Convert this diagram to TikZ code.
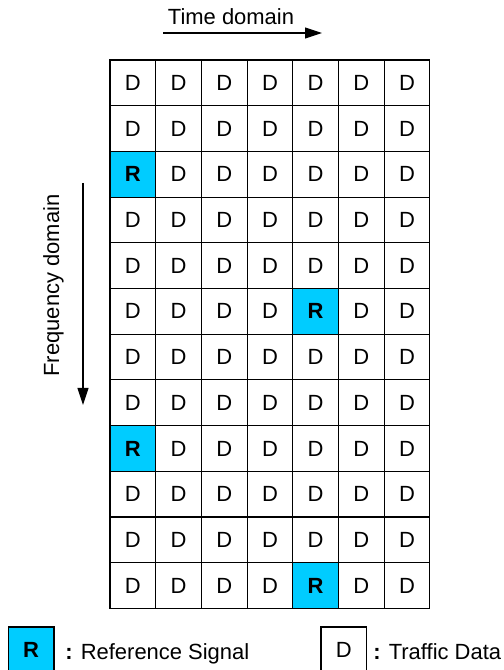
\documentclass[tikz,border=0pt]{standalone}
\usepackage{fontspec}
\setmainfont{Liberation Sans}
\usepackage{xcolor}
\usetikzlibrary{arrows.meta,positioning}
\definecolor{refcyan}{HTML}{00CCFF}

\begin{document}
\begin{tikzpicture}[
  font=\fontsize{12.5}{15}\selectfont,
  cell/.style={draw, line width=0.6pt, minimum size=0.914cm, inner sep=0pt},
  refcell/.style={cell, fill=refcyan, font=\fontsize{12.5}{15}\selectfont\bfseries},
  axis/.style={line width=0.6pt, -{Triangle[length=3.4mm,width=2.2mm]}},
  keytext/.style={anchor=base west, inner sep=0pt}
]
  \useasboundingbox (0,0) rectangle (10.06,13.4);

  % Resource grid (R = reference signal, D = data)
  \foreach \r in {1,...,12} {
    \foreach \c in {1,...,7} {
      \pgfmathtruncatemacro{\isref}{(\c==1 && (\r==3 || \r==9)) || (\c==5 && (\r==6 || \r==12))}
      \ifnum\isref=1
        \node[refcell] (c\c-\r) at ({2.2+(\c-0.5)*0.914}, {12.2-(\r-0.5)*0.914}) {R};
      \else
        \node[cell] (c\c-\r) at ({2.2+(\c-0.5)*0.914}, {12.2-(\r-0.5)*0.914}) {D};
      \fi
    }
  }

  % Time axis
  \coordinate (t0) at (3.26, 12.74);
  \coordinate (t1) at (6.44, 12.74);
  \draw[axis] (t0) -- (t1);
  \node[anchor=base] (tlabel) at (4.62, 12.9) {Time domain};

  % Frequency axis
  \coordinate (f0) at (1.66, 9.74);
  \coordinate (f1) at (1.66, 5.3);
  \draw[axis] (f0) -- (f1);
  \node[anchor=base, rotate=90] (flabel) at (1.18, 7.69) {Frequency domain};

  % Legend
  \node[refcell] (keyR) at (0.623, 0.403) {R};
  \node[keytext] (keyRtext) at (1.3, 0.22) {\textbf{:} Reference Signal};
  \node[cell] (keyD) at (6.877, 0.403) {D};
  \node[keytext] (keyDtext) at (7.46, 0.22) {\textbf{:} Traffic Data};

\end{tikzpicture}
\end{document}
